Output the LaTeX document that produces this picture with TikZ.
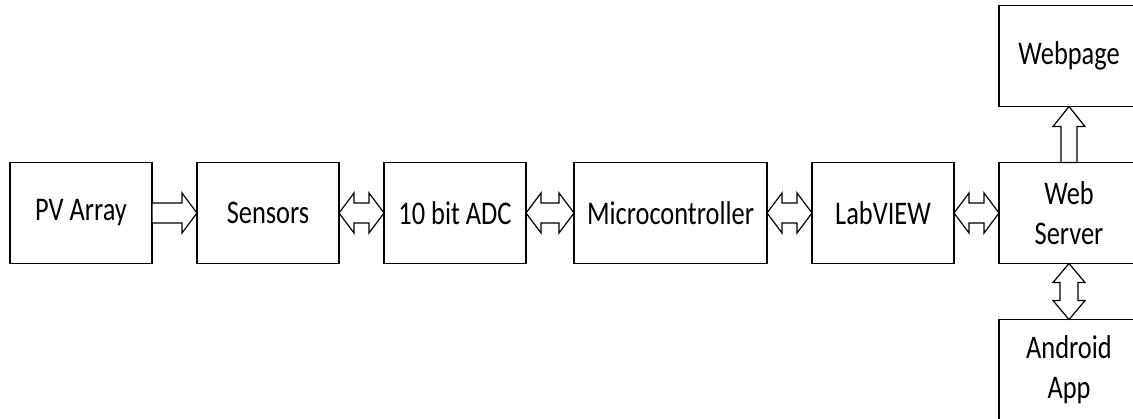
\documentclass[tikz,border=0pt]{standalone}
\usepackage{fontspec}
\setmainfont{Carlito}[FakeStretch=0.8]
\usepackage{tikz}
\usetikzlibrary{calc, positioning}
\tikzset{
  block/.style={draw, line width=0.7pt, minimum width=71pt, minimum height=50.5pt, inner sep=0pt, outer sep=0pt, align=center, font=\fontsize{16.5}{20}\selectfont},
  fatarrow/.style={draw, line width=0.6pt, fill=white, line join=miter}
}
% hollow block arrows between two nodes
\newcommand{\rightfat}[2]{\draw[fatarrow] let \p1=(#1.east), \p2=(#2.west) in
  (\x1,\y2+5pt) -- (\x2-7.5pt,\y2+5pt) -- (\x2-7.5pt,\y2+10pt) -- (\x2,\y2) -- (\x2-7.5pt,\y2-10pt) -- (\x2-7.5pt,\y2-5pt) -- (\x1,\y2-5pt) -- cycle;}
\newcommand{\bothfat}[2]{\draw[fatarrow] let \p1=(#1.east), \p2=(#2.west) in
  (\x1,\y2) -- (\x1+7.5pt,\y2+10pt) -- (\x1+7.5pt,\y2+5pt) -- (\x2-7.5pt,\y2+5pt) -- (\x2-7.5pt,\y2+10pt) -- (\x2,\y2) -- (\x2-7.5pt,\y2-10pt) -- (\x2-7.5pt,\y2-5pt) -- (\x1+7.5pt,\y2-5pt) -- (\x1+7.5pt,\y2-10pt) -- cycle;}
\newcommand{\upfat}[2]{\draw[fatarrow] let \p1=(#1.north), \p2=(#2.south) in
  (\x1-4pt,\y1) -- (\x1-4pt,\y2-10pt) -- (\x1-8pt,\y2-10pt) -- (\x1,\y2) -- (\x1+8pt,\y2-10pt) -- (\x1+4pt,\y2-10pt) -- (\x1+4pt,\y1) -- cycle;}
\newcommand{\vbothfat}[2]{\draw[fatarrow] let \p1=(#1.south), \p2=(#2.north) in
  (\x1,\y1) -- (\x1-8pt,\y1-9.5pt) -- (\x1-4.5pt,\y1-9.5pt) -- (\x1-4.5pt,\y2+9.5pt) -- (\x1-8pt,\y2+9.5pt) -- (\x1,\y2) -- (\x1+8pt,\y2+9.5pt) -- (\x1+4.5pt,\y2+9.5pt) -- (\x1+4.5pt,\y1-9.5pt) -- (\x1+8pt,\y1-9.5pt) -- cycle;}

\begin{document}
\begin{tikzpicture}[x=0.5pt, y=-0.5pt, node distance=22.5pt]
\useasboundingbox (0,0) rectangle (1133,418);
\node[block] (pv) at (81,213) {PV Array};
\node[block, right=of pv] (sens) {Sensors};
\node[block, right=of sens] (adc) {10 bit ADC};
\node[block, right=24pt of adc, minimum width=96.5pt] (mcu) {Microcontroller};
\node[block, right=of mcu] (lab) {LabVIEW};
\node[block, right=of lab, minimum width=70pt] (web) {Web\\Server};
\node[block, above=28pt of web, minimum width=70pt] (page) {Webpage};
\node[block, below=28pt of web, minimum width=70pt] (app) {Android\\App};
\rightfat{pv}{sens}
\bothfat{sens}{adc}
\bothfat{adc}{mcu}
\bothfat{mcu}{lab}
\bothfat{lab}{web}
\upfat{web}{page}
\vbothfat{web}{app}
\end{tikzpicture}
\end{document}
